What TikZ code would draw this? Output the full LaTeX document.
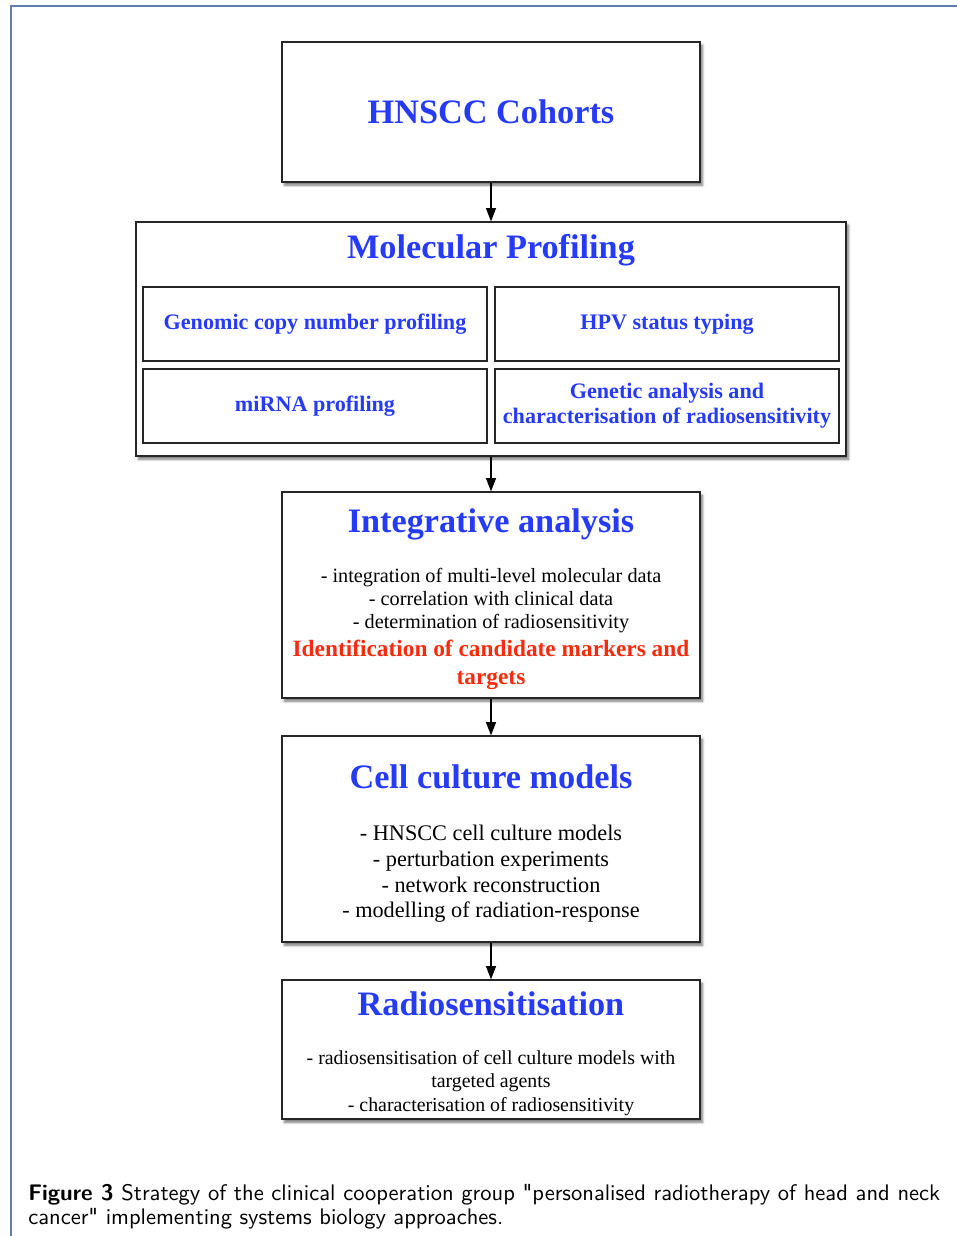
\documentclass[tikz,border=0pt]{standalone}
\usepackage{fontspec}
\setmainfont{Liberation Serif}
\newfontfamily\captionfnt{lmsans10}[Extension=.otf,UprightFont=*-regular,BoldFont=*-bold]
\usetikzlibrary{arrows.meta,shadows.blur}
\definecolor{hdblue}{RGB}{38,58,250}
\definecolor{hdred}{RGB}{250,42,12}
\definecolor{framecol}{RGB}{95,125,170}
\tikzset{>={Triangle[length=10pt,width=7.5pt]},
  stagebox/.style={draw=black!85,line width=0.9pt,fill=white,inner sep=0pt,
    blur shadow={shadow xshift=1.8pt,shadow yshift=-2.4pt,shadow blur steps=6,shadow opacity=55}},
  subbox/.style={draw=black!85,line width=0.8pt,fill=white,inner sep=0pt,
    minimum width=258pt,minimum height=55.5pt,align=center,text=hdblue,
    font=\fontsize{16.6}{18.75}\bfseries\selectfont},
  boxtitle/.style={text=hdblue,font=\fontsize{25.7}{30}\bfseries\selectfont},
  listtext/.style={align=center,inner sep=0pt}
}

\begin{document}
\begin{tikzpicture}[x=0.75pt,y=-0.75pt]
    \useasboundingbox (0,0) rectangle (957,1236);
    % frame of the figure
    \draw[framecol,line width=1.5pt] (11,1236) -- (11,6) -- (957,6);
    % stages
    \node[stagebox,minimum width=313.5pt,minimum height=105pt] (cohorts) at (491,112) {};
    \node[boxtitle] (cohortsT) at (491,112) {HNSCC Cohorts};
    \node[stagebox,minimum width=532.5pt,minimum height=175.5pt] (profiling) at (491,339) {};
    \node[boxtitle] (profilingT) at (491,250) {Molecular Profiling};
    \node[subbox] (genomic) at (315,324) {Genomic copy number profiling};
    \node[subbox] (hpv) at (667,324) {HPV status typing};
    \node[subbox] (mirna) at (315,406) {miRNA profiling};
    \node[subbox] (genetic) at (667,406) {Genetic analysis and\\characterisation of radiosensitivity};
    \node[stagebox,minimum width=313.5pt,minimum height=154.5pt] (integr) at (491,595) {};
    \node[boxtitle] (integrT) at (491,524) {Integrative analysis};
    \node[listtext,font=\fontsize{15.2}{17.25}\selectfont] (integrL) at (491,601)
      {- integration of multi-level molecular data\\- correlation with clinical data\\- determination of radiosensitivity};
    \node[listtext,text=hdred,font=\fontsize{17.5}{21}\bfseries\selectfont] (integrR) at (491,664.5)
      {Identification of candidate markers and\\targets};
    \node[stagebox,minimum width=313.5pt,minimum height=154.5pt] (culture) at (491,839) {};
    \node[boxtitle] (cultureT) at (491,777) {Cell culture models};
    \node[listtext,font=\fontsize{16.7}{19.3}\selectfont] (cultureL) at (491,874)
      {- HNSCC cell culture models\\- perturbation experiments\\- network reconstruction\\- modelling of radiation-response};
    \node[stagebox,minimum width=313.5pt,minimum height=104.25pt] (radio) at (491,1049.5) {};
    \node[boxtitle] (radioT) at (491,1004) {Radiosensitisation};
    \node[listtext,font=\fontsize{14.9}{17.6}\selectfont] (radioL) at (491,1083)
      {- radiosensitisation of cell culture models with\\targeted agents\\- characterisation of radiosensitivity};
    % connections
    \draw[->,line width=1pt] (cohorts) -- (profiling);
    \draw[->,line width=1pt] (profiling) -- (integr);
    \draw[->,line width=1pt] (integr) -- (culture);
    \draw[->,line width=1pt] (culture) -- (radio);
    % caption
    \node[anchor=north west,inner sep=0pt,text width=684pt,align=justify,
      font=\captionfnt\fontsize{16.9}{18}\selectfont] (caption) at (28,1184)
      {\textbf{Figure 3} Strategy of the clinical cooperation group \textquotedbl personalised radiotherapy of head and neck cancer\textquotedbl{} implementing systems biology approaches.};
  \end{tikzpicture}
\end{document}
